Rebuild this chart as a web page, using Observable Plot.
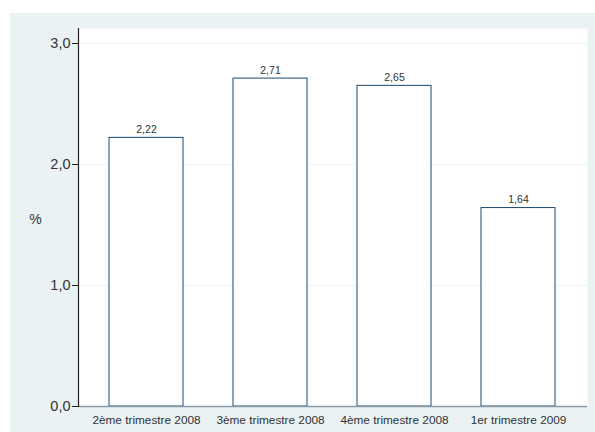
<!DOCTYPE html>
<html>
<head>
<meta charset="utf-8">
<script src="https://cdn.jsdelivr.net/npm/d3@7"></script>
<script src="https://cdn.jsdelivr.net/npm/@observablehq/plot@0.6"></script>
<style>
  html, body { margin: 0; padding: 0; background: #ffffff; }
  #wrap { position: relative; width: 595px; height: 432px; overflow: hidden; }
  #bg { position: absolute; left: 10px; top: 13px; width: 585px; height: 419px; background: #eaf2f3; }
  #chart { position: absolute; left: 0; top: 0; }
</style>
</head>
<body>
<div id="wrap"><div id="bg"></div><div id="chart"></div></div>
<script>
const categories = ["2ème trimestre 2008", "3ème trimestre 2008", "4ème trimestre 2008", "1er trimestre 2009"];
const values = [2.22, 2.71, 2.65, 1.64];
const yTicks = [0, 1, 2, 3];
const yLabel = "%";

const data = categories.map((c, i) => ({category: c, value: values[i]}));
const fmt1 = d => d3.format(".1f")(d).replace(".", ",");
const fmt2 = d => d3.format(".2f")(d).replace(".", ",");

const chart = Plot.plot({
  width: 595,
  height: 432,
  marginLeft: 78,
  marginRight: 8,
  marginTop: 43,
  marginBottom: 26,
  style: {background: "transparent", fontFamily: "'Liberation Sans', Arial, sans-serif", color: "#333"},
  x: {domain: categories, range: [83, 582], paddingInner: 0.4, paddingOuter: 0.2, label: null},
  y: {domain: [0, 3], label: null},
  marks: [
    Plot.frame({fill: "white", stroke: null, insetTop: -15}),
    Plot.gridY(yTicks.slice(1), {stroke: "#eaf2f3", strokeOpacity: 1, strokeWidth: 1}),
    Plot.barY(data, {x: "category", y: "value", fill: "white", stroke: "#1a476f", strokeWidth: 1}),
    Plot.text(data, {x: "category", y: "value", text: d => fmt2(d.value), dy: -8, fontSize: 10.5, fill: "#333"}),
    Plot.ruleY([0], {stroke: "#8a9aa6", strokeWidth: 1.5}),
    Plot.frame({anchor: "left", stroke: "#222", strokeWidth: 1.2, insetTop: -15}),
    Plot.axisY(yTicks, {tickFormat: fmt1, tickSize: 6, tickPadding: 2, fontSize: 14.5, stroke: "#222", fill: "#333", label: null}),
    Plot.axisX({tickSize: 0, tickPadding: 9, fontSize: 11.8, fill: "#333", label: null}),
    Plot.text([yLabel], {frameAnchor: "left", dx: -43, dy: -5, textAnchor: "middle", fontSize: 14, fill: "#333"})
  ]
});
document.getElementById("chart").append(chart);
</script>
</body>
</html>
